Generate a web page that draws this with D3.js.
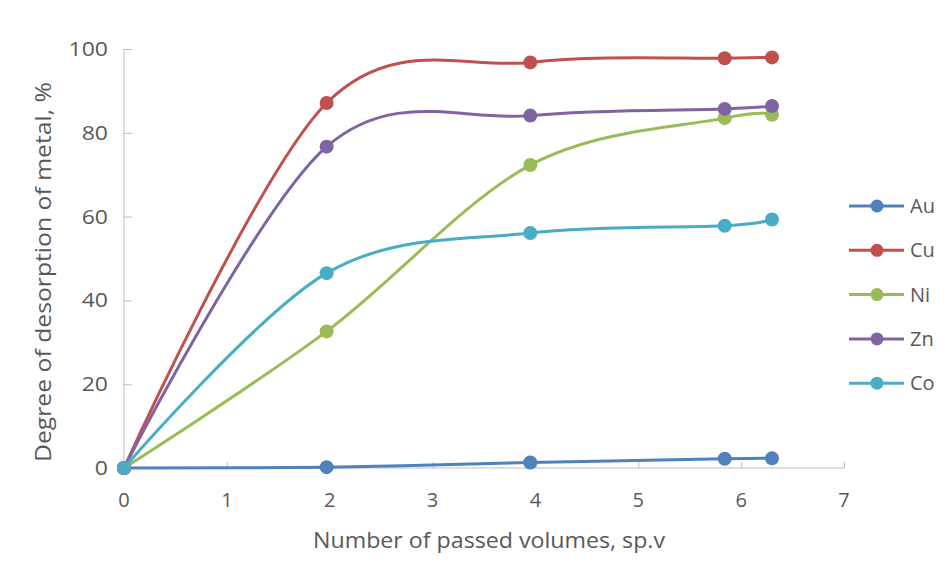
<!DOCTYPE html>
<html><head><meta charset="utf-8">
<script src="https://cdn.jsdelivr.net/npm/d3@7"></script>
<style>body{margin:0;background:#fff}svg{display:block}text{font-family:"Open Sans",Arial,sans-serif;fill:#595959}</style>
</head><body><svg id="c" width="949" height="571"></svg>
<script>
const xValues = [0, 1.97, 3.95, 5.84, 6.3];
const seriesNames = ["Au", "Cu", "Ni", "Zn", "Co"];
const au = [0, 0.2, 1.3, 2.2, 2.3];
const cu = [0, 87.1, 96.8, 97.8, 98.0];
const ni = [0, 32.6, 72.3, 83.5, 84.3];
const zn = [0, 76.7, 84.1, 85.7, 86.4];
const co = [0, 46.5, 56.1, 57.8, 59.3];
const colors = ["#4f81bd", "#c0504d", "#9bbb59", "#8064a2", "#4bacc6"];
const xTicks = [0,1,2,3,4,5,6,7];
const yTicks = [0,20,40,60,80,100];
const seriesValues = [au, cu, ni, zn, co];

const svg = d3.select("#c");
const x = d3.scaleLinear().domain([0,7]).range([124,844]);
const y = d3.scaleLinear().domain([0,100]).range([468,49]);
const axisColor = "#bfbfbf";

const ya = svg.append("g").attr("transform","translate(124,0)")
  .call(d3.axisRight(y).tickValues(yTicks).tickSize(8).tickFormat(""));
ya.select(".domain").attr("stroke",axisColor).attr("d","M0,49V468");
ya.selectAll(".tick line").attr("stroke",axisColor);
svg.append("g").selectAll("text").data(yTicks).join("text")
  .attr("x",108).attr("y",d=>y(d)).attr("dy","0.35em").attr("text-anchor","end")
  .attr("font-size",20).attr("transform",d=>`translate(108,${y(d)}) scale(1.15,1) translate(-108,${-y(d)})`).text(d=>d);

const xa = svg.append("g").attr("transform","translate(0,468)")
  .call(d3.axisTop(x).tickValues(xTicks).tickSize(6).tickFormat(""));
xa.select(".domain").attr("stroke",axisColor).attr("d","M124,0H844");
xa.selectAll(".tick line").attr("stroke",axisColor);
svg.append("g").selectAll("text").data(xTicks).join("text")
  .attr("x",d=>x(d)).attr("y",500).attr("dy","0.35em").attr("text-anchor","middle")
  .attr("font-size",20).text(d=>d);

svg.append("text").attr("x",489).attr("y",540).attr("dy","0.35em").attr("text-anchor","middle")
  .attr("font-size",22).attr("textLength",352).attr("lengthAdjust","spacingAndGlyphs")
  .text("Number of passed volumes, sp.v");
svg.append("text").attr("transform","translate(44,272) rotate(-90)").attr("dy","0.35em")
  .attr("text-anchor","middle").attr("font-size",21).attr("textLength",380).attr("lengthAdjust","spacingAndGlyphs")
  .text("Degree of desorption of metal, %");

const line = d3.line().x((d,i)=>x(xValues[i])).y(d=>y(d)).curve(d3.curveCardinal.tension(0));
seriesValues.forEach((vals,k)=>{
  const g = svg.append("g");
  g.append("path").attr("d",line(vals)).attr("fill","none").attr("stroke",colors[k]).attr("stroke-width",3);
  g.selectAll("circle").data(vals).join("circle")
    .attr("cx",(d,i)=>x(xValues[i])).attr("cy",d=>y(d)).attr("r",7).attr("fill",colors[k]);
});

const lg = svg.append("g").selectAll("g").data(seriesNames).join("g")
  .attr("transform",(d,i)=>`translate(0,${206+i*44.3})`);
lg.append("line").attr("x1",849).attr("x2",904).attr("stroke",(d,i)=>colors[i]).attr("stroke-width",3);
lg.append("circle").attr("cx",877).attr("r",6.5).attr("fill",(d,i)=>colors[i]);
lg.append("text").attr("x",910).attr("dy","0.35em").attr("font-size",20).text(d=>d);
</script></body></html>
